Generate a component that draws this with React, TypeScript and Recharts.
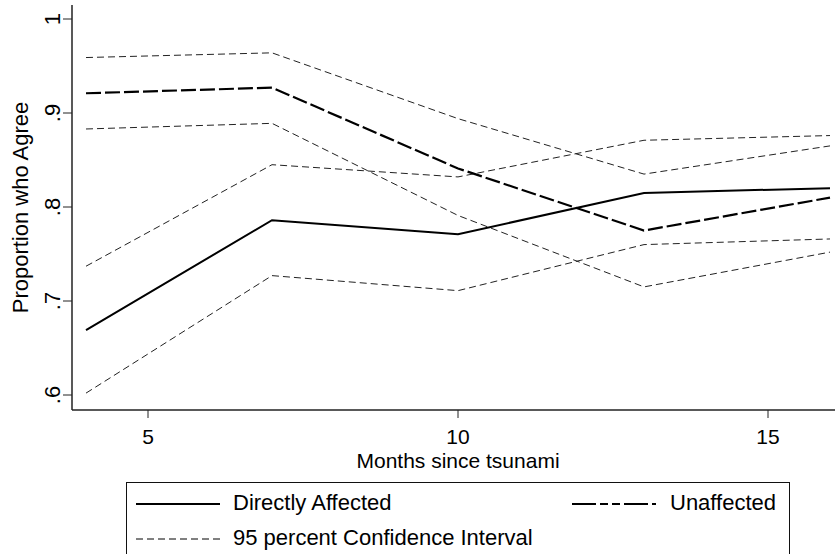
import React from "react";
import { LineChart, Line, XAxis, YAxis, Label } from "recharts";

// survey rounds (months after the tsunami)
const months = [4, 7, 10, 13, 16];

// share agreeing, directly affected respondents
const directly = [0.669, 0.786, 0.771, 0.815, 0.82];
const directlyLow = [0.602, 0.727, 0.711, 0.76, 0.766];
const directlyHigh = [0.737, 0.845, 0.832, 0.871, 0.876];

// share agreeing, unaffected respondents
const unaffected = [0.921, 0.927, 0.841, 0.775, 0.81];
const unaffectedLow = [0.883, 0.889, 0.791, 0.715, 0.752];
const unaffectedHigh = [0.959, 0.964, 0.894, 0.835, 0.865];

const xTicks = [5, 10, 15];
const yTicks = [0.6, 0.7, 0.8, 0.9, 1];

const data = months.map((m, i) => ({
  month: m,
  directly: directly[i],
  directlyLow: directlyLow[i],
  directlyHigh: directlyHigh[i],
  unaffected: unaffected[i],
  unaffectedLow: unaffectedLow[i],
  unaffectedHigh: unaffectedHigh[i],
}));

const FONT = "'Liberation Sans', Arial, Helvetica, sans-serif";
const FS = 22;
const AXIS = "#222";
const CI_DASH = "7 4";
const LONG_DASH = "15 4";

// Stata-style labels: ".9" instead of "0.9"
const fmtY = (v: number) => (v === 1 ? "1" : String(v).replace(/^0/, ""));

const XTick = (props: any) => {
  const { x, y, payload } = props;
  return (
    <text x={x} y={y} dy="0.71em" textAnchor="middle" fontSize={21} fontFamily={FONT} fill="#000">
      {payload.value}
    </text>
  );
};

const YTick = (props: any) => {
  const { x, y, payload } = props;
  return (
    <text
      x={x}
      y={y}
      transform={`rotate(-90, ${x}, ${y})`}
      textAnchor="middle"
      fontSize={FS}
      fontFamily={FONT}
      fill="#000"
    >
      {fmtY(payload.value)}
    </text>
  );
};

const YTitle = (props: any) => {
  const vb = props.viewBox;
  const x = vb.x + 28;
  const y = vb.y + vb.height / 2;
  return (
    <text x={x} y={y} transform={`rotate(-90, ${x}, ${y})`} textAnchor="middle" fontSize={FS} fontFamily={FONT} fill="#000">
      Proportion who Agree
    </text>
  );
};

const XTitle = (props: any) => {
  const vb = props.viewBox;
  return (
    <text x={vb.x + vb.width / 2} y={vb.y + 58} textAnchor="middle" fontSize={21} fontFamily={FONT} fill="#000">
      Months since tsunami
    </text>
  );
};

const Sample = ({ dash, width }: { dash?: string; width: number }) => (
  <svg width={84} height={6} style={{ display: "block" }}>
    <line x1={0} y1={3} x2={84} y2={3} stroke="#000" strokeWidth={width} strokeDasharray={dash} />
  </svg>
);

const legendText: React.CSSProperties = {
  position: "absolute",
  fontFamily: FONT,
  fontSize: FS,
  lineHeight: "24px",
  color: "#000",
  whiteSpace: "nowrap",
};

function KeyBox() {
  return (
    <div
      style={{
        position: "absolute",
        left: 126,
        top: 482,
        width: 662,
        height: 100,
        border: "1.5px solid #111",
        background: "#fff",
      }}
    >
      <div style={{ position: "absolute", left: 9, top: 18 }}>
        <Sample width={2} />
      </div>
      <div style={{ ...legendText, left: 106, top: 8 }}>Directly Affected</div>
      <div style={{ position: "absolute", left: 445, top: 18 }}>
        <Sample width={2.2} dash="24 4 8 4 8 4" />
      </div>
      <div style={{ ...legendText, left: 543, top: 8 }}>Unaffected</div>
      <div style={{ position: "absolute", left: 9, top: 53 }}>
        <Sample width={1} dash={CI_DASH} />
      </div>
      <div style={{ ...legendText, left: 106, top: 43 }}>95 percent Confidence Interval</div>
    </div>
  );
}

export default function App() {
  return (
    <div
      style={{
        position: "absolute",
        left: 0,
        top: 0,
        width: 835,
        height: 554,
        overflow: "hidden",
        background: "#fff",
      }}
    >
      <LineChart width={860} height={554} data={data} margin={{ top: 5, right: 16, bottom: 0, left: 0 }}>
        <XAxis
          dataKey="month"
          type="number"
          domain={[4, 16]}
          ticks={xTicks}
          padding={{ left: 14, right: 14 }}
          height={144}
          tickSize={8}
          tickMargin={11}
          tick={<XTick />}
          stroke={AXIS}
          strokeWidth={1.5}
          tickLine={{ stroke: AXIS, strokeWidth: 1 }}
        >
          <Label content={<XTitle />} />
        </XAxis>
        <XAxis
          xAxisId="top"
          dataKey="month"
          type="number"
          domain={[4, 16]}
          orientation="top"
          height={0}
          tick={false}
          tickLine={false}
          stroke={AXIS}
          strokeWidth={1.5}
        />
        <YAxis
          type="number"
          domain={[0.6, 1]}
          ticks={yTicks}
          padding={{ top: 14, bottom: 15 }}
          width={72}
          tickSize={9}
          tickMargin={3}
          tick={<YTick />}
          stroke={AXIS}
          strokeWidth={1.5}
          tickLine={{ stroke: AXIS, strokeWidth: 1 }}
        >
          <Label content={<YTitle />} />
        </YAxis>

        <Line dataKey="unaffectedHigh" type="linear" stroke="#222" strokeWidth={1} strokeDasharray={CI_DASH} dot={false} isAnimationActive={false} />
        <Line dataKey="unaffectedLow" type="linear" stroke="#222" strokeWidth={1} strokeDasharray={CI_DASH} dot={false} isAnimationActive={false} />
        <Line dataKey="directlyHigh" type="linear" stroke="#222" strokeWidth={1} strokeDasharray={CI_DASH} dot={false} isAnimationActive={false} />
        <Line dataKey="directlyLow" type="linear" stroke="#222" strokeWidth={1} strokeDasharray={CI_DASH} dot={false} isAnimationActive={false} />
        <Line dataKey="unaffected" type="linear" stroke="#000" strokeWidth={2.2} strokeDasharray={LONG_DASH} dot={false} isAnimationActive={false} />
        <Line dataKey="directly" type="linear" stroke="#000" strokeWidth={2} dot={false} isAnimationActive={false} />
      </LineChart>
      <KeyBox />
    </div>
  );
}
